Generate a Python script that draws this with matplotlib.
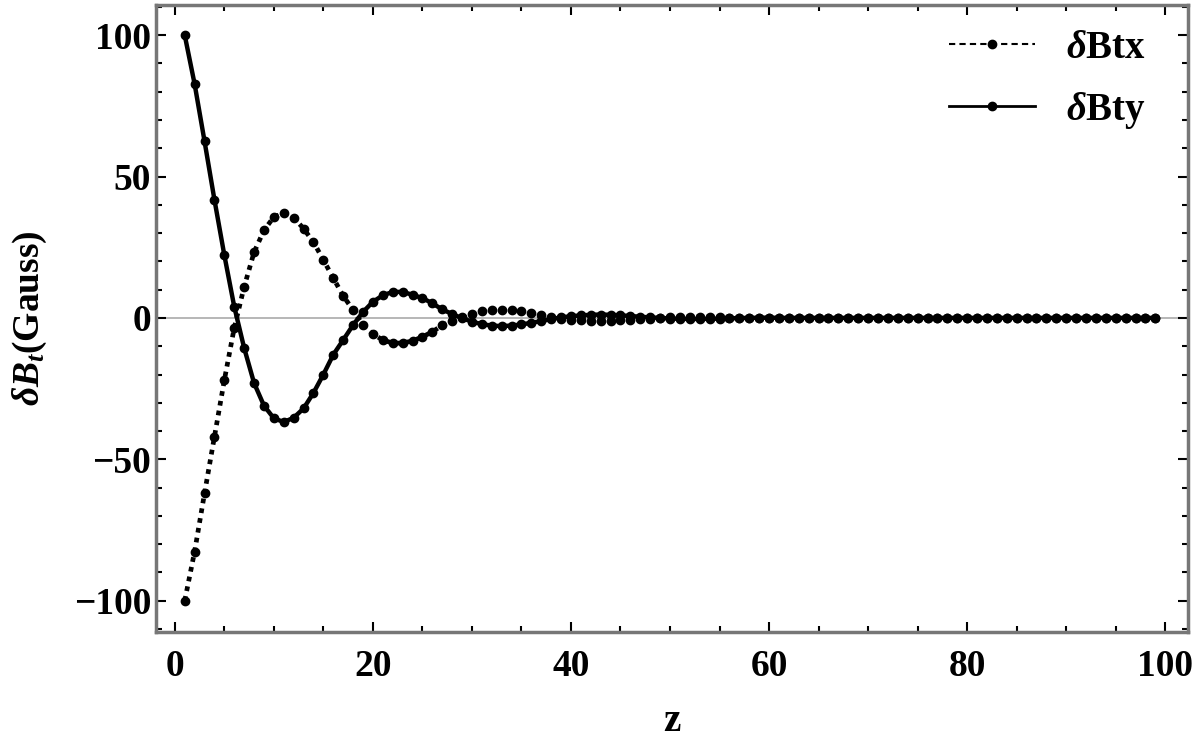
import matplotlib
matplotlib.use("Agg")
import matplotlib.pyplot as plt
from matplotlib.ticker import MultipleLocator
from matplotlib.lines import Line2D

z = list(range(1, 100))

btx_head = [-100, -82.6, -62.0, -42.0, -22.0, -3.5, 11.0, 23.2, 31.0, 35.7,
            37.0, 35.5, 31.6, 26.8, 20.5, 14.1, 7.8, 2.8, -2.5, -5.7,
            -7.8, -8.9, -8.9, -8.1, -6.7, -4.9, -2.6, -1.2, 0.2, 1.4,
            2.3, 2.7, 2.8, 2.7, 2.3, 1.7, 1.1, 0.4, -0.2, -0.6,
            -0.9, -1.1, -1.2, -1.1, -0.9, -0.7, -0.4, -0.2, 0.0, 0.2,
            0.3, 0.35, 0.35, 0.3, 0.25, 0.15, 0.05, 0.0, -0.05, -0.1]
bty_head = [100, 82.7, 62.5, 41.8, 22.2, 4.0, -10.6, -23.0, -31.0, -35.5,
            -36.8, -35.3, -32.0, -26.5, -20.0, -13.0, -7.8, -2.5, 2.1, 5.7,
            8.0, 9.2, 9.2, 8.2, 7.0, 5.2, 3.0, 1.4, -0.1, -1.3,
            -2.2, -2.7, -2.9, -2.7, -2.3, -1.7, -1.1, -0.4, 0.2, 0.6,
            0.9, 1.1, 1.2, 1.1, 0.9, 0.7, 0.4, 0.2, 0.0, -0.2,
            -0.3, -0.35, -0.35, -0.3, -0.25, -0.15, -0.05, 0.0, 0.05, 0.1]
btx_tail = [0.0] * 39
bty_tail = [0.0] * 39
btx = btx_head + btx_tail
bty = bty_head + bty_tail

xticks = [0, 20, 40, 60, 80, 100]
yticks = [-100, -50, 0, 50, 100]
ytick_labels = ["\u2212100", "\u221250", "0", "50", "100"]
series_labels = [r'$\delta$Btx', r'$\delta$Bty']

plt.rcParams['font.family'] = ['Liberation Serif', 'DejaVu Serif']
plt.rcParams['font.weight'] = 'bold'
plt.rcParams['mathtext.fontset'] = 'custom'
plt.rcParams['mathtext.rm'] = 'Liberation Serif:bold'
plt.rcParams['mathtext.it'] = 'Liberation Serif:italic:bold'
plt.rcParams['mathtext.bf'] = 'Liberation Serif:bold'

fig = plt.figure(figsize=(12, 7.39), dpi=100)
ax = fig.add_axes([0.13, 0.145, 0.86, 0.848])

ax.axhline(0, color='#aaaaaa', lw=1.2, zorder=1)
ax.plot(z, btx, color='black', lw=3.4, linestyle=(0, (1, 1.1)),
        marker='o', markersize=6.0, zorder=3)
ax.plot(z, bty, color='black', lw=3.2, linestyle='-',
        marker='o', markersize=6.0, zorder=3)

ax.set_xlim(-1.9, 102.3)
ax.set_ylim(-111, 110.6)
ax.set_xticks(xticks)
ax.set_yticks(yticks)
ax.set_yticklabels(ytick_labels)
ax.xaxis.set_minor_locator(MultipleLocator(5))
ax.yaxis.set_minor_locator(MultipleLocator(10))
ax.tick_params(which='both', direction='in', top=True, right=True,
               color='black', width=1.5)
ax.tick_params(axis='y', labelsize=27)
ax.tick_params(axis='x', labelsize=27, pad=12)
ax.tick_params(which='major', length=7)
ax.tick_params(which='minor', length=4)
for lab in ax.get_xticklabels() + ax.get_yticklabels():
    lab.set_fontweight('bold')
for s in ax.spines.values():
    s.set_color('#777777')
    s.set_linewidth(2.5)

ax.set_xlabel('z', fontsize=28, fontweight='bold', labelpad=14)
ax.set_ylabel(r'$\delta B_t$(Gauss)', fontsize=27, fontweight='bold', labelpad=18)

lh0 = Line2D([], [], color='black', lw=1.5, linestyle=(0, (3, 2)), marker='o', markersize=6)
lh1 = Line2D([], [], color='black', lw=2, linestyle='-', marker='o', markersize=6)
ax.legend([lh0, lh1], series_labels, loc='upper right', frameon=False,
          labelspacing=0.6, handlelength=2.2, handletextpad=0.8,
          bbox_to_anchor=(0.993, 1.017), prop={'weight': 'bold', 'size': 28})

fig.savefig('out.png', dpi=100)
